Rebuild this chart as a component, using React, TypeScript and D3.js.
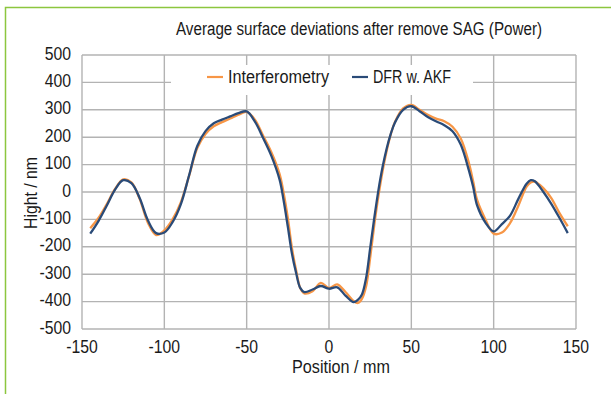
import React from "react";
import * as d3 from "d3";

// positions along the surface (mm), finer where the profile is steep
const positions = [
  -145, -140, -135, -130, -125, -120, -115, -110, -105, -100, -95, -90, -85, -80, -75,
  -70, -65, -60, -55, -50, -45, -40, -35, -30, -27.5, -25, -22.5, -20, -17.5, -15, -10,
  -5, 0, 5, 10, 15, 17.5, 20, 22.5, 25, 27.5, 30, 32.5, 35, 37.5, 40, 45, 50, 55, 60, 65,
  70, 75, 80, 85, 87.5, 90, 95, 100, 105, 110, 115, 120, 122.5, 125, 130, 135, 140, 145,
];

const interferometry = [
  -132, -95, -45, 10, 46, 35, -25, -112, -157, -140, -100, -38, 58, 160, 212,
  240, 255, 268, 282, 292, 264, 205, 145, 65, -5, -95, -205, -285, -350, -370, -362,
  -332, -350, -337, -365, -398, -405, -390, -345, -240, -120, -15, 75, 150, 210, 255, 305, 318, 300, 282, 268,
  258, 238, 195, 105, 40, -30, -100, -152, -148, -113, -50, 20, 35, 38, 15, -22, -77, -125,
];

const dfrAkf = [
  -152, -106, -50, 8, 43, 32, -22, -103, -150, -148, -110, -45, 60, 168, 222,
  251, 264, 276, 288, 294, 257, 197, 132, 45, -33, -127, -225, -295, -350, -365, -356,
  -343, -353, -348, -378, -402, -394, -374, -315, -205, -95, 6, 90, 158, 212, 253, 300, 313, 295, 274, 258,
  244, 222, 173, 78, 20, -50, -112, -144, -117, -86, -25, 30, 43, 39, 2, -43, -95, -150,
];

const xTicks = [-150, -100, -50, 0, 50, 100, 150];
const yTicks = [500, 400, 300, 200, 100, 0, -100, -200, -300, -400, -500];

const seriesNames = ["Interferometry", "DFR w. AKF"];
const seriesColors = ["#F79646", "#2A4B78"];

const W = 611;
const H = 394;
const plot = { left: 82, right: 576, top: 55, bottom: 329 };
const font = "'Liberation Sans', Arial, sans-serif";
const ink = "#1a1a1a";

// condensed look: squeeze a regular face horizontally
function Narrow({ x, y, anchor = "start", size, sx = 0.88, children }: any) {
  return (
    <text
      transform={`translate(${x},${y}) scale(${sx},1)`}
      textAnchor={anchor}
      fontSize={size}
      fill={ink}
    >
      {children}
    </text>
  );
}

export default function App() {
  const x = d3.scaleLinear().domain([-150, 150]).range([plot.left, plot.right]);
  const y = d3.scaleLinear().domain([-500, 500]).range([plot.bottom, plot.top]);

  const line = d3
    .line<number>()
    .x((_, i) => x(positions[i]))
    .y((d) => y(d))
    .curve(d3.curveCatmullRom.alpha(0.5));

  const series = [interferometry, dfrAkf];
  const grid = "#b3b3b3";

  return (
    <svg
      width={W}
      height={H}
      style={{ position: "absolute", left: 0, top: 0, background: "#fff" }}
      fontFamily={font}
    >
      {/* green frame, cut by the picture edges */}
      <rect x={5.5} y={7.5} width={700} height={500} fill="none" stroke="#8cc63e" strokeWidth={1.5} />

      <text x={176} y={35} fontSize={18} fill={ink} textLength={366} lengthAdjust="spacingAndGlyphs">
        Average surface deviations after remove SAG (Power)
      </text>

      {/* grid */}
      {yTicks.map((t) => (
        <line key={"gy" + t} x1={plot.left} x2={plot.right} y1={y(t)} y2={y(t)} stroke={grid} strokeWidth={1.4} />
      ))}
      {xTicks.map((t) => (
        <line key={"gx" + t} x1={x(t)} x2={x(t)} y1={plot.top} y2={plot.bottom} stroke={grid} strokeWidth={1.4} />
      ))}

      {/* legend */}
      <rect x={171} y={65} width={302} height={30} fill="#fff" />
      {seriesNames.map((name, i) => {
        const lx = i === 0 ? 207 : 352;
        const tw = i === 0 ? 101 : 78;
        return (
          <g key={name}>
            <line x1={lx} x2={lx + 16} y1={77} y2={77} stroke={seriesColors[i]} strokeWidth={2.2} />
            <text x={lx + 21} y={83} fontSize={18} fill={ink} textLength={tw} lengthAdjust="spacingAndGlyphs">
              {name}
            </text>
          </g>
        );
      })}

      {/* series */}
      {series.map((vals, i) => (
        <path key={i} d={line(vals) ?? ""} fill="none" stroke={seriesColors[i]} strokeWidth={2.3} />
      ))}

      {/* y axis labels */}
      {yTicks.map((t) => (
        <Narrow key={"ly" + t} x={71} y={y(t) + 4.5} anchor="end" size={17.5} sx={0.9}>
          {t}
        </Narrow>
      ))}
      {/* x axis labels */}
      {xTicks.map((t) => (
        <Narrow key={"lx" + t} x={x(t)} y={353} anchor="middle" size={17.5} sx={0.9}>
          {t}
        </Narrow>
      ))}

      <text x={292} y={373} fontSize={18} fill={ink} textLength={98} lengthAdjust="spacingAndGlyphs">
        Position / mm
      </text>
      <text
        transform={`translate(37, 229) rotate(-90)`}
        fontSize={18}
        fill={ink}
        textLength={72}
        lengthAdjust="spacingAndGlyphs"
      >
        Hight / nm
      </text>
    </svg>
  );
}
